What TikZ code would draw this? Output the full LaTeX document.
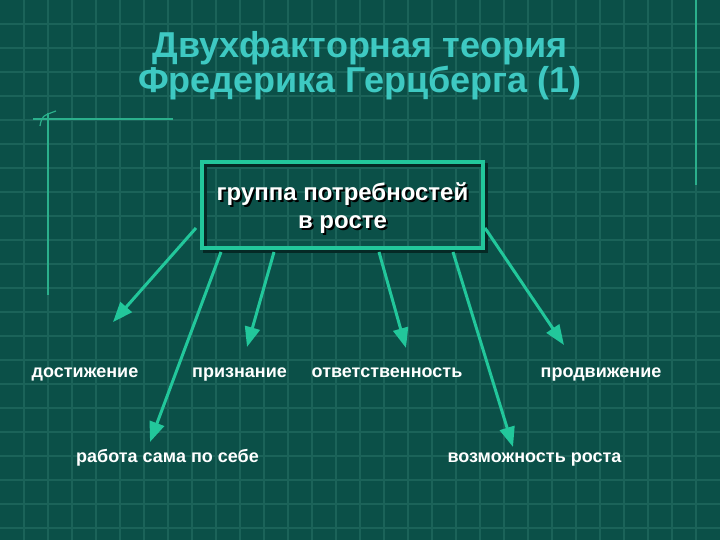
\documentclass[tikz,border=0pt]{standalone}
\usepackage{fontspec}
\setmainfont{Liberation Sans}
\usetikzlibrary{arrows.meta,positioning}
\definecolor{slidebg}{HTML}{0B5048}
\definecolor{gridln}{HTML}{1B6359}
\definecolor{accent}{HTML}{22C79B}
\definecolor{ornament}{HTML}{2BB08C}
\definecolor{titlecol}{HTML}{3EC9C2}
\definecolor{shade}{HTML}{052925}

% white text with a dark drop shadow
\newcommand{\shd}[1]{\makebox[0pt][l]{\hspace{2pt}\raisebox{-2pt}{\textcolor{black}{#1}}}#1}

\tikzset{
  factor/.style={font=\bfseries\fontsize{18}{20}\selectfont, text=white, inner sep=0pt, anchor=base},
  growarrow/.style={-{Triangle[length=20pt,width=15pt]}, line width=3pt, accent},
  boxframe/.style={line width=4pt, minimum width=281pt, minimum height=86pt},
  boxtext/.style={font=\bfseries\fontsize{24}{28}\selectfont, align=center, inner sep=0pt},
}

\begin{document}
\begin{tikzpicture}[x=1pt,y=-1pt]

% Background and grid
\fill[slidebg] (0,0) rectangle (720,540);
\useasboundingbox (0,0) rectangle (720,540);
\foreach \x in {24,48,...,696} {
  \draw[gridln, line width=1.2pt] (\x,0) -- (\x,540);
}
\foreach \y in {24,48,...,528} {
  \draw[gridln, line width=1.2pt] (0,\y) -- (720,\y);
}

% Corner ornament and right rule
\draw[ornament, line width=1.6pt] (33,119) -- (173,119);
\draw[ornament, line width=1.6pt] (48,113) -- (48,295);
\draw[ornament, line width=1.2pt] (40,126) .. controls (42,116) .. (56,111);
\draw[ornament, line width=1.6pt] (696,0) -- (696,185);

% Title
\node[font=\bfseries\fontsize{36}{35}\selectfont, text=titlecol, align=center]
  (title) at (360,66) {Двухфакторная теория\\Фредерика Герцберга (1)};

% Central box with shadow
\node[boxframe, draw=shade] (boxshadow) at (345.5,208) {};
\node[boxframe, draw=accent] (box) at (342.5,205) {};
\node[boxtext, text=white] (need) at ([yshift=-4pt]box.center)
  {\shd{группа потребностей}\\\shd{в росте}};

% Growth factors
\node[factor] (dost) at (85,377) {достижение};
\node[factor] (priz) at (239.5,377) {признание};
\node[factor] (otv)  at (387,377) {ответственность};
\node[factor] (prod) at (601,377) {продвижение};
\node[factor] (rab)  at (167.5,462) {работа сама по себе};
\node[factor] (voz)  at (534.5,462) {возможность роста};

% Arrow tips
\coordinate (dost tip) at (113,322);
\coordinate (rab tip)  at (150,442);
\coordinate (priz tip) at (247,347);
\coordinate (otv tip)  at (406,348);
\coordinate (voz tip)  at (513,447);
\coordinate (prod tip) at (564,345);

% Arrows from the box
\draw[growarrow] ([xshift=-4pt,yshift=-23pt]box.west) -- (dost tip);
\draw[growarrow] ([xshift=21pt,yshift=-2pt]box.south west) -- (rab tip);
\draw[growarrow] ([xshift=74pt,yshift=-2pt]box.south west) -- (priz tip);
\draw[growarrow] ([xshift=179pt,yshift=-2pt]box.south west) -- (otv tip);
\draw[growarrow] ([xshift=253pt,yshift=-2pt]box.south west) -- (voz tip);
\draw[growarrow] ([xshift=0pt,yshift=-23pt]box.east) -- (prod tip);

\end{tikzpicture}
\end{document}
